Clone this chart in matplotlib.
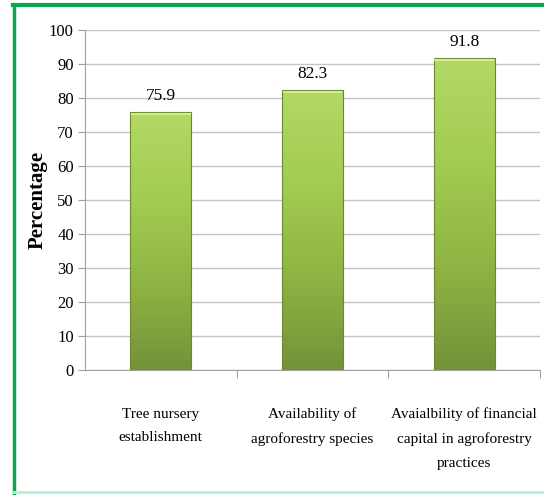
import numpy as np
import matplotlib.pyplot as plt
from matplotlib.colors import LinearSegmentedColormap
from matplotlib.lines import Line2D

# Datos
categorias = ['Tree nursery\nestablishment',
              'Availability of\nagroforestry species',
              'Avaialbility of financial\ncapital in agroforestry\npractices']
porcentajes = [75.9, 82.3, 91.8]
yticks = np.arange(0, 101, 10)

plt.rcParams['font.family'] = 'Liberation Serif'

fig = plt.figure(figsize=(5.44, 4.95), dpi=100)
ax = fig.add_axes([0.156, 0.2525, 0.837, 0.6865])

x = np.arange(len(categorias))
ancho = 0.4
barras = ax.bar(x, porcentajes, width=ancho, color='none',
                edgecolor='#6b8a2c', linewidth=0.8, zorder=3)

# Degradado vertical dentro de cada barra
cmap = LinearSegmentedColormap.from_list(
    'verde', ['#74923a', '#8fb443', '#a3cc52', '#b3d866'])
grad = np.linspace(0, 1, 256).reshape(-1, 1)
for b in barras:
    x0, w, h = b.get_x(), b.get_width(), b.get_height()
    im = ax.imshow(grad, cmap=cmap, origin='lower', aspect='auto',
                   extent=[x0, x0 + w, 0, h], zorder=2)
    im.set_clip_path(b)
    # borde claro superior
    ax.plot([x0 + 0.01, x0 + w - 0.01], [h - 0.6, h - 0.6],
            color='#d2eb95', lw=1.5, zorder=4)

for xi, v in zip(x, porcentajes):
    ax.annotate(f'{v}', (xi, v), xytext=(0, 6), textcoords='offset points',
                ha='center', va='bottom', fontsize=12.5)

ax.set_xlim(-0.5, 2.5)
ax.set_ylim(0, 100)
ax.set_yticks(yticks)
ax.tick_params(axis='y', labelsize=12, length=5, color='#a0a0a0', pad=3)
ax.set_xticks([0.5, 1.5, 2.5], minor=False)
ax.set_xticklabels([])
ax.set_xticks(x, minor=True)
ax.set_xticklabels(categorias, minor=True, fontsize=11, linespacing=2.05)
ax.tick_params(axis='x', which='major', length=6, color='#a0a0a0')
ax.tick_params(axis='x', which='minor', length=0, pad=27)

ax.grid(axis='y', color='#c4c4c4', lw=1, zorder=0)
for s in ['top', 'right']:
    ax.spines[s].set_visible(False)
for s in ['left', 'bottom']:
    ax.spines[s].set_color('#a0a0a0')

ax.set_ylabel('Percentage', fontsize=15, fontweight='bold', labelpad=1)

# Marco verde
fig.add_artist(Line2D([13/544, 1], [1 - 5/495, 1 - 5/495],
                      color='#0aa84a', lw=3, transform=fig.transFigure))
fig.add_artist(Line2D([14/544, 14/544], [0, 1 - 5/495],
                      color='#0aa84a', lw=2.5, transform=fig.transFigure))
fig.add_artist(Line2D([13/544, 1], [3/495, 3/495],
                      color='#b5f0cc', lw=2, transform=fig.transFigure))

plt.savefig('out.png', dpi=100)
